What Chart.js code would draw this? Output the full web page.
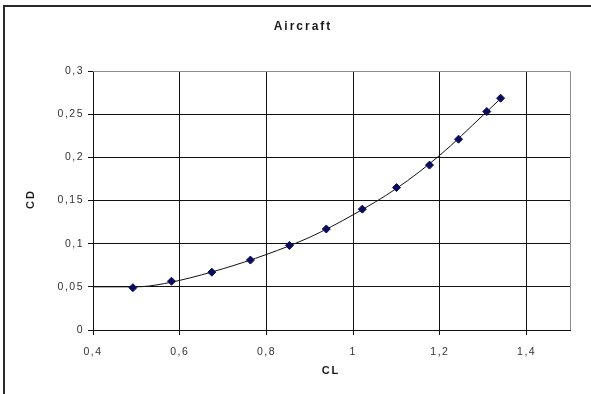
<!DOCTYPE html>
<html>
<head>
<meta charset="utf-8">
<script src="https://cdn.jsdelivr.net/npm/chart.js@4/dist/chart.umd.min.js"></script>
<style>
    body { margin: 0; background: #fff; }
    canvas { display: block; }
</style>
</head>
<body>
<canvas id="chart" width="591" height="394"></canvas>
<script>
    "use strict"

    // measured points (CL, CD)
    var cl_values = [0.492, 0.581, 0.674, 0.763, 0.853, 0.938, 1.021, 1.100, 1.176, 1.243, 1.308, 1.340];
    var cd_values = [0.049, 0.0565, 0.067, 0.081, 0.098, 0.117, 0.140, 0.165, 0.191, 0.221, 0.253, 0.2685];

    // trendline
    var trend_cl = [0.40, 0.50, 0.53, 0.60, 0.70, 0.80, 0.90, 1.00, 1.10, 1.20, 1.30, 1.34];
    var trend_cd = [0.050, 0.050, 0.051, 0.0575, 0.071, 0.0875, 0.1075, 0.1335, 0.164, 0.2025, 0.249, 0.268];

    var x_ticks = [0.4, 0.6, 0.8, 1.0, 1.2, 1.4];
    var y_ticks = [0, 0.05, 0.1, 0.15, 0.2, 0.25, 0.3];

    function to_points(xs, ys) {
        var arr = [];
        for (var i = 0; i < xs.length; i++) {
            arr.push({x: xs[i], y: ys[i]});
        }
        return arr;
    }

    function comma(v) {
        return String(Number(v.toFixed(2))).replace(".", ",");
    }

    var frame_plugin = {
        id: "frame",
        beforeDraw: function (chart) {
            var ctx = chart.ctx;
            ctx.letterSpacing = "1.5px";
        },
        afterDraw: function (chart) {
            var ctx = chart.ctx;
            var a = chart.chartArea;
            ctx.save();
            // plot area top / right edges
            ctx.strokeStyle = "#8c8c8c";
            ctx.lineWidth = 1;
            ctx.beginPath();
            ctx.moveTo(a.left, a.top + 0.5);
            ctx.lineTo(a.right + 0.5, a.top + 0.5);
            ctx.lineTo(a.right + 0.5, a.bottom);
            ctx.stroke();

            // outer chart border (top and left)
            ctx.strokeStyle = "#2a2a2a";
            ctx.lineWidth = 2;
            ctx.beginPath();
            ctx.moveTo(4, 394);
            ctx.lineTo(4, 6);
            ctx.lineTo(591, 6);
            ctx.stroke();

            // titles
            ctx.fillStyle = "#1a1a1a";
            ctx.textAlign = "center";
            ctx.textBaseline = "middle";
            ctx.letterSpacing = "2px";
            ctx.font = "bold 12px 'Liberation Sans', Arial, sans-serif";
            ctx.fillText("Aircraft", 303, 27);
            ctx.font = "bold 11px 'Liberation Sans', Arial, sans-serif";
            ctx.fillText("CL", 331, 371);
            ctx.translate(31, 199);
            ctx.rotate(-Math.PI / 2);
            ctx.fillText("CD", 0, 0);
            ctx.restore();
        }
    };

    var ctx = document.getElementById("chart").getContext("2d");
    var chart = new Chart(ctx, {
        type: "scatter",
        data: {
            datasets: [
                {
                    label: "CD",
                    data: to_points(cl_values, cd_values),
                    pointStyle: "rectRot",
                    pointRadius: 4,
                    pointBackgroundColor: "#0b0b5c",
                    pointBorderColor: "#0b0b5c",
                    pointBorderWidth: 1,
                    showLine: false,
                    order: 0
                },
                {
                    label: "trend",
                    data: to_points(trend_cl, trend_cd),
                    showLine: true,
                    borderColor: "#111",
                    borderWidth: 1,
                    pointRadius: 0,
                    cubicInterpolationMode: "monotone",
                    fill: false,
                    order: 1
                }
            ]
        },
        options: {
            responsive: false,
            animation: false,
            events: [],
            layout: { padding: { left: 0, top: 71, right: 21, bottom: 0 } },
            plugins: {
                legend: { display: false },
                tooltip: { enabled: false },
                title: { display: false }
            },
            scales: {
                x: {
                    type: "linear",
                    min: 0.4,
                    max: 1.5,
                    afterFit: function (scale) { scale.height = 64; },
                    afterBuildTicks: function (scale) {
                        scale.ticks = x_ticks.map(function (v) { return {value: v}; });
                    },
                    ticks: {
                        autoSkip: false,
                        maxRotation: 0,
                        padding: 11,
                        color: "#333",
                        font: { family: "'Liberation Sans', Arial, sans-serif", size: 10.5 },
                        callback: function (v) { return comma(v); }
                    },
                    grid: {
                        color: "#111",
                        lineWidth: 1,
                        tickLength: 5,
                        tickColor: "#111"
                    },
                    border: { color: "#111", width: 1 }
                },
                y: {
                    type: "linear",
                    min: 0,
                    max: 0.3,
                    afterFit: function (scale) { scale.width = 93; },
                    afterBuildTicks: function (scale) {
                        scale.ticks = y_ticks.map(function (v) { return {value: v}; });
                    },
                    ticks: {
                        padding: 4,
                        color: "#333",
                        font: { family: "'Liberation Sans', Arial, sans-serif", size: 10.5 },
                        callback: function (v) { return comma(v); }
                    },
                    grid: {
                        color: function (c) {
                            return c.tick && c.tick.value >= 0.3 ? "#8c8c8c" : "#111";
                        },
                        lineWidth: 1,
                        tickLength: 5,
                        tickColor: "#111"
                    },
                    border: { color: "#111", width: 1 }
                }
            }
        },
        plugins: [frame_plugin]
    });
</script>
</body>
</html>
